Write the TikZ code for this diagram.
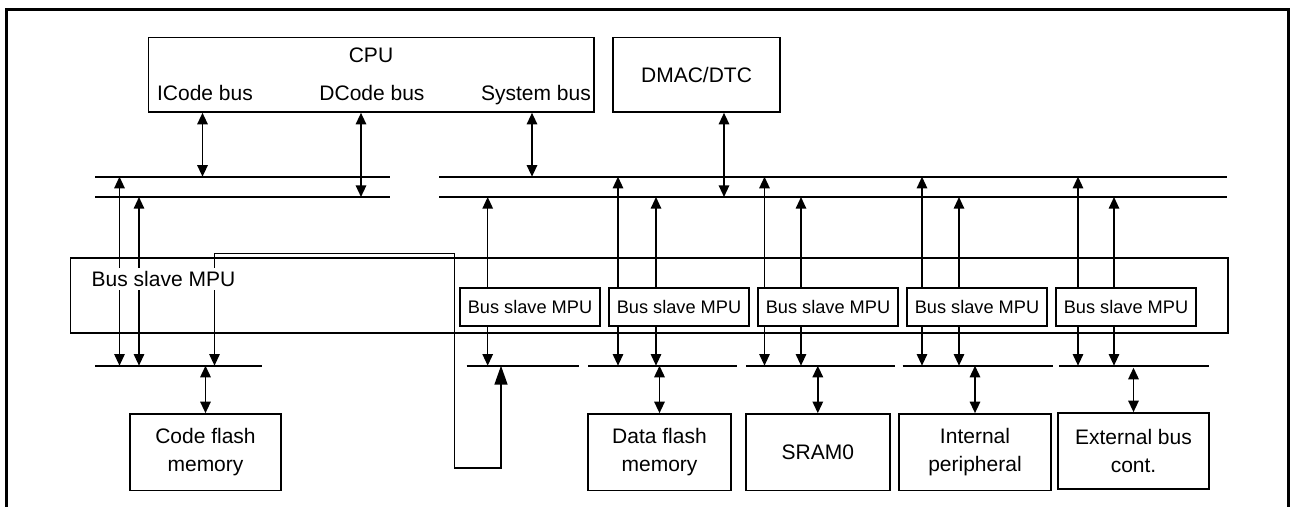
\documentclass[tikz,border=0pt]{standalone}
\usepackage{fontspec}
\setmainfont{Liberation Sans}
\usetikzlibrary{arrows.meta, positioning, calc}

\begin{document}
\begin{tikzpicture}[
  x=0.5pt, y=-0.5pt,
  every node/.style={font=\fontsize{10.5}{14}\selectfont},
  box/.style={
    draw, line width=0.8pt, inner sep=0pt, align=center
  },
  mpu/.style={
    draw, fill=white, line width=0.75pt, inner sep=0pt,
    minimum width=70pt, minimum height=19pt,
    font=\fontsize{9.1}{11}\selectfont
  },
  tag/.style={inner sep=0pt, anchor=base},
  bus/.style={line width=1pt},
  link/.style={{Triangle[length=5.8pt,width=5.2pt]}-{Triangle[length=5.8pt,width=5.2pt]}, line width=0.9pt},
  tap/.style={{Triangle[length=5.8pt,width=5.2pt]}-{Triangle[length=5.8pt,width=5.2pt]}, line width=0.75pt},
  frame/.style={line width=1.5pt}
]
  \useasboundingbox (0,0) rectangle (1290,507);
  \draw[frame] (6,507) -- (6,10) -- (1288,10) -- (1288,507);

  % Bus masters
  \node[box, minimum width=222.75pt, minimum height=37.15pt] (cpu) at (371.25,74.85) {};
  \node[tag] (cpuname) at (371,62.5) {CPU};
  \node[tag] (icode) at (205,100.5) {ICode bus};
  \node[tag] (dcode) at (372,100.5) {DCode bus};
  \node[tag] (sysbus) at (536,100.5) {System bus};
  \node[box, minimum width=83.5pt, minimum height=37.15pt] (dmac) at (696.5,74.85) {DMAC/DTC};

  % Upper buses
  \coordinate (busL1-w) at (95,176.7);  \coordinate (busL1-e) at (390,176.7);
  \coordinate (busL2-w) at (95,197);    \coordinate (busL2-e) at (390,197);
  \coordinate (busR1-w) at (439,176.7); \coordinate (busR1-e) at (1227,176.7);
  \coordinate (busR2-w) at (439,197);   \coordinate (busR2-e) at (1227,197);
  \draw[bus] (busL1-w) -- (busL1-e) (busL2-w) -- (busL2-e);
  \draw[bus] (busR1-w) -- (busR1-e) (busR2-w) -- (busR2-e);

  % Lower buses, one per slave
  \foreach \n/\a/\b in {0/95.4/262, 1/466.5/578.8, 2/588/736.7, 3/745.8/895, 4/902.7/1053, 5/1059/1208.5} {
    \coordinate (low\n-w) at (\a,365.7);
    \coordinate (low\n-e) at (\b,365.7);
    \draw[bus] (low\n-w) -- (low\n-e);
  }

  % Bus slave MPU area
  \node[box, minimum width=578.75pt, minimum height=37.5pt] (mpuall) at (649.25,295.8) {};

  % Masters -> buses
  \draw[link] (cpu.south -| 202.5,0) -- (busL1-w -| 202.5,0);
  \draw[link] (cpu.south -| 361,0) -- (busL2-w -| 361,0);
  \draw[link] (cpu.south -| 532,0) -- (busR1-w -| 532,0);
  \draw[link] (dmac.south -| 724,0) -- (busR2-w -| 724,0);

  % Taps from slave buses to master buses
  \foreach \x/\lo/\hi in {119.5/low0/busL1, 139/low0/busL2, 487.7/low1/busR2,
      618/low2/busR1, 656/low2/busR2, 764.5/low3/busR1, 801/low3/busR2,
      922/low4/busR1, 959/low4/busR2, 1078/low5/busR1, 1114/low5/busR2} {
    \draw[tap] (\lo-w -| \x,0) -- (\hi-w -| \x,0);
  }

  % Loop from code flash bus to the first slave bus
  \draw[{Triangle[length=9.5pt,width=6.5pt]}-{Triangle[length=5.8pt,width=5.2pt]}, line width=0.75pt]
    (low1-w -| 501,0) -- (501,468) -- (454.3,468) -- (454.3,253.3) -- (214.5,253.3) -- (low0-w -| 214.5,0);

  % MPU boxes (drawn over the taps)
  \node[tag, fill=white, inner sep=1.5pt] (mpuname) at (163.5,286.5) {Bus slave MPU};
  \node[mpu] (mpu1) at (530,307) {Bus slave MPU};
  \node[mpu] (mpu2) at (679,307) {Bus slave MPU};
  \node[mpu] (mpu3) at (828,307) {Bus slave MPU};
  \node[mpu] (mpu4) at (977,307) {Bus slave MPU};
  \node[mpu] (mpu5) at (1126,307) {Bus slave MPU};

  % Slaves
  \node[box, minimum width=75.5pt, minimum height=38.3pt] (codeflash) at (205.5,452.3) {Code flash\\memory};
  \node[box, minimum width=71.5pt, minimum height=38.3pt] (dataflash) at (659.5,452.3) {Data flash\\memory};
  \node[box, minimum width=72pt, minimum height=38.3pt] (sram) at (817.8,452.3) {SRAM0};
  \node[box, minimum width=75.9pt, minimum height=38.3pt] (intper) at (975,452.3) {Internal\\peripheral};
  \node[box, minimum width=75.5pt, minimum height=38pt] (extbus) at (1133.5,451) {External bus\\cont.};

  % Slave buses <-> slaves
  \draw[link] (low0-w -| codeflash) -- (codeflash.north);
  \draw[link] (low2-w -| dataflash) -- (dataflash.north);
  \draw[link] (low3-w -| sram) -- (sram.north);
  \draw[link] (low4-w -| intper) -- (intper.north);
  \draw[link] ([yshift=-1pt]low5-w -| extbus) -- (extbus.north);

\end{tikzpicture}
\end{document}
